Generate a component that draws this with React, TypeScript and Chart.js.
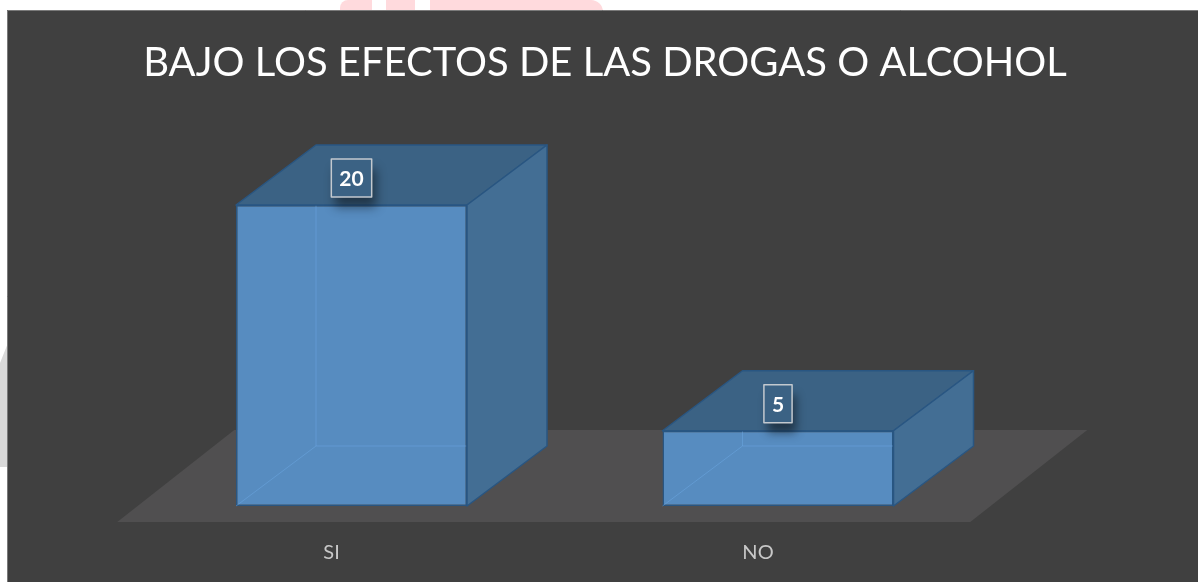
import React, { useEffect, useRef } from "react";
import { Chart, registerables } from "chart.js";

Chart.register(...registerables);

// ---- data ----
const TITLE = "BAJO LOS EFECTOS DE LAS DROGAS O ALCOHOL";
const CATEGORIES = ["SI", "NO"];
const VALUES = [20, 5];
const Y_MAX = 24;

// ---- style constants ----
const BG = "#404040";
const FLOOR = "#504f50";
const FRONT = "#578cc0";
const TOP = "#3b6284";
const SIDE = "#436e94";
const EDGE = "#295682";
const INNER = "rgba(110,170,230,0.45)";
const DEPTH = { x: 80, y: 60 };
const FLOOR_FRONT = { x: -21, y: 16 };
const FLOOR_BACK = { x: 96, y: -76 };
const FONT = "Lato, 'Open Sans', sans-serif";

const backgroundPlugin = {
  id: "bgTitle",
  beforeDraw(chart: any) {
    const { ctx, width, height } = chart;
    ctx.save();
    ctx.fillStyle = BG;
    ctx.fillRect(0, 0, width, height);
    ctx.strokeStyle = "#7a7a7a";
    ctx.lineWidth = 1;
    ctx.beginPath();
    ctx.moveTo(0.5, height);
    ctx.lineTo(0.5, 0.5);
    ctx.lineTo(width, 0.5);
    ctx.stroke();
    // title
    ctx.font = `400 40px ${FONT}`;
    const w = ctx.measureText(TITLE).width;
    const size = (40 * 924) / w;
    ctx.font = `400 ${size}px ${FONT}`;
    ctx.fillStyle = "#ffffff";
    ctx.textAlign = "center";
    ctx.textBaseline = "alphabetic";
    ctx.fillText(TITLE, 598, 66);
    ctx.restore();
  },
};

const floorPlugin = {
  id: "floor3d",
  beforeDatasetsDraw(chart: any) {
    const { ctx, chartArea, scales } = chart;
    const base = scales.y.getPixelForValue(0);
    const L = chartArea.left;
    const R = chartArea.right;
    ctx.save();
    ctx.fillStyle = FLOOR;
    ctx.beginPath();
    ctx.moveTo(L + FLOOR_FRONT.x, base + FLOOR_FRONT.y);
    ctx.lineTo(R + FLOOR_FRONT.x, base + FLOOR_FRONT.y);
    ctx.lineTo(R + FLOOR_BACK.x, base + FLOOR_BACK.y);
    ctx.lineTo(L + FLOOR_BACK.x, base + FLOOR_BACK.y);
    ctx.closePath();
    ctx.fill();
    ctx.restore();
  },
};

const poly = (ctx: any, pts: number[][], fill: string) => {
  ctx.beginPath();
  ctx.moveTo(pts[0][0], pts[0][1]);
  for (let i = 1; i < pts.length; i++) ctx.lineTo(pts[i][0], pts[i][1]);
  ctx.closePath();
  ctx.fillStyle = fill;
  ctx.fill();
  ctx.strokeStyle = EDGE;
  ctx.lineWidth = 1.5;
  ctx.lineJoin = "round";
  ctx.stroke();
};

const bar3dPlugin = {
  id: "bar3d",
  afterDatasetsDraw(chart: any) {
    const { ctx } = chart;
    const meta = chart.getDatasetMeta(0);
    ctx.save();
    meta.data.forEach((el: any, i: number) => {
      const { x, y, base, width } = el.getProps(["x", "y", "base", "width"], true);
      const l = x - width / 2;
      const r = x + width / 2;
      const dx = DEPTH.x;
      const dy = DEPTH.y;
      // inner (hidden) edges seen through the front face
      ctx.strokeStyle = INNER;
      ctx.lineWidth = 1;
      ctx.beginPath();
      ctx.moveTo(l + dx, y - dy);
      ctx.lineTo(l + dx, base - dy);
      ctx.lineTo(r, base - dy);
      ctx.moveTo(l, base);
      ctx.lineTo(l + dx, base - dy);
      ctx.stroke();
      // top face
      poly(ctx, [[l, y], [r, y], [r + dx, y - dy], [l + dx, y - dy]], TOP);
      // side face
      poly(ctx, [[r, y], [r + dx, y - dy], [r + dx, base - dy], [r, base]], SIDE);

      // data label
      const text = String(VALUES[i]);
      ctx.font = `700 21px ${FONT}`;
      const tw = ctx.measureText(text).width;
      const bw = tw + 16;
      const bh = 38;
      const cx = x;
      const cy = y - 27;
      ctx.save();
      ctx.shadowColor = "rgba(0,0,0,0.45)";
      ctx.shadowBlur = 10;
      ctx.shadowOffsetX = 4;
      ctx.shadowOffsetY = 10;
      ctx.fillStyle = TOP;
      ctx.fillRect(cx - bw / 2, cy - bh / 2, bw, bh);
      ctx.restore();
      ctx.strokeStyle = "#c3c9cf";
      ctx.lineWidth = 1.5;
      ctx.strokeRect(cx - bw / 2, cy - bh / 2, bw, bh);
      ctx.fillStyle = "#ffffff";
      ctx.textAlign = "center";
      ctx.textBaseline = "middle";
      ctx.fillText(text, cx, cy + 1);
    });
    ctx.restore();
  },
};

export default function App() {
  const canvasRef = useRef<HTMLCanvasElement | null>(null);

  useEffect(() => {
    if (!canvasRef.current) return;
    const chart = new Chart(canvasRef.current, {
      type: "bar",
      data: {
        labels: CATEGORIES,
        datasets: [
          {
            data: VALUES,
            backgroundColor: FRONT,
            borderColor: EDGE,
            borderWidth: 1.5,
            borderSkipped: false,
            categoryPercentage: 1,
            barPercentage: 0.5416,
          },
        ],
      },
      options: {
        animation: false,
        responsive: true,
        maintainAspectRatio: false,
        layout: {
          padding: { top: 134.8, left: 131.25, right: 206.75, bottom: 0 },
        },
        plugins: {
          legend: { display: false },
          tooltip: { enabled: false },
          title: { display: false },
        },
        scales: {
          x: {
            grid: { display: false },
            border: { display: false },
            ticks: {
              color: "#c8c8c8",
              font: { family: FONT, size: 20 },
              padding: 27,
              labelOffset: -20,
            },
            afterFit: (scale: any) => {
              scale.height = 76;
            },
          },
          y: {
            display: false,
            min: 0,
            max: Y_MAX,
          },
        },
      },
      plugins: [backgroundPlugin, floorPlugin, bar3dPlugin],
    });
    return () => chart.destroy();
  }, []);

  return (
    <div>
      <div
        style={{
          position: "absolute",
          left: 340,
          top: 0,
          width: 263,
          height: 12,
          background: "#ffdadd",
          borderTopLeftRadius: 40,
          borderTopRightRadius: 60,
        }}
      />
      <div style={{ position: "absolute", left: 372, top: 0, width: 14, height: 12, background: "#ffffff" }} />
      <div style={{ position: "absolute", left: 415, top: 0, width: 15, height: 12, background: "#ffffff" }} />
      <div
        style={{
          position: "absolute",
          left: 0,
          top: 343,
          width: 8,
          height: 124,
          background: "#d9d9d9",
          clipPath: "polygon(0 20px, 100% 0, 100% 100%, 0 100%)",
        }}
      />
      <div
        style={{
          position: "absolute",
          left: 7,
          top: 10,
          width: 1191,
          height: 572,
        }}
      >
        <canvas ref={canvasRef} />
      </div>
    </div>
  );
}
